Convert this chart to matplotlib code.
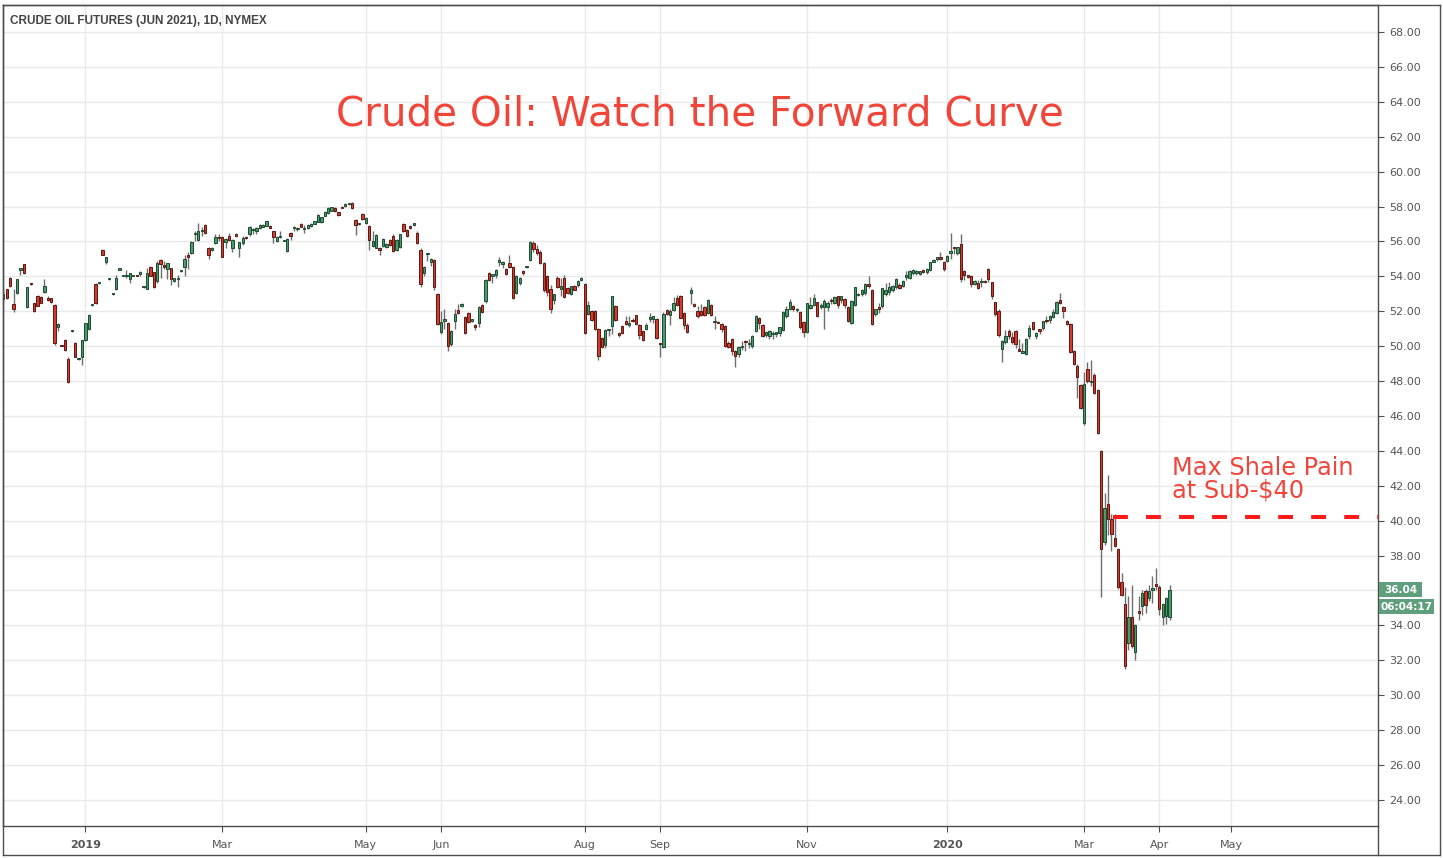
import numpy as np
import pandas as pd
import matplotlib
matplotlib.use("Agg")
import matplotlib.pyplot as plt
from matplotlib.lines import Line2D
from matplotlib.patches import Rectangle

# Daily bars of the Jun 2021 crude contract, 27 Nov 2018 -> 6 Apr 2020
opens = [
    52.70, 53.25, 53.92, 52.42, 53.07, 54.38, 54.70, 52.26, 53.58, 52.45,
    52.90, 52.80, 53.08, 52.75, 52.75, 52.36, 51.07, 50.05, 50.35, 49.25,
    50.85, 50.20, 49.25, 49.36, 50.35, 51.00, 52.34, 53.56, 53.60, 55.50,
    54.80, 53.83, 52.97, 53.26, 54.39, 54.01, 54.02, 53.83, 54.02, 54.02,
    54.14, 53.37, 53.26, 54.56, 54.23, 53.75, 54.94, 54.65, 54.40, 54.46,
    53.75, 53.83, 54.29, 54.56, 55.20, 55.33, 56.42, 56.09, 56.61, 56.97,
    55.65, 55.50, 55.92, 56.20, 56.24, 55.96, 56.33, 55.60, 56.43, 55.61,
    55.92, 56.28, 56.40, 56.65, 56.59, 56.76, 56.85, 56.91, 56.89, 56.57,
    56.00, 56.23, 56.04, 55.44, 56.49, 56.75, 56.72, 57.02, 56.72, 56.76,
    56.89, 57.02, 57.14, 57.11, 57.48, 57.64, 57.77, 57.92, 57.66, 57.99,
    58.02, 58.14, 58.20, 57.24, 57.00, 57.58, 57.06, 56.89, 55.73, 55.63,
    55.55, 55.73, 55.67, 56.09, 56.34, 55.52, 55.67, 57.00, 56.63, 56.91,
    56.96, 56.49, 55.52, 54.20, 55.28, 54.81, 54.94, 53.00, 50.80, 51.46,
    51.33, 50.13, 51.43, 52.08, 52.32, 51.66, 51.90, 51.46, 51.22, 51.31,
    52.36, 52.61, 54.20, 54.04, 54.08, 54.81, 54.71, 54.43, 54.77, 54.52,
    53.05, 53.62, 54.28, 54.51, 54.94, 55.92, 55.57, 55.42, 54.78, 54.03,
    53.29, 52.62, 53.92, 53.25, 53.92, 53.34, 53.00, 53.42, 53.52, 53.80,
    53.54, 51.85, 51.99, 51.99, 51.00, 50.48, 50.08, 50.93, 51.15, 52.30,
    50.77, 51.13, 51.42, 51.24, 51.51, 51.76, 51.22, 50.84, 50.96, 51.58,
    51.57, 51.57, 50.15, 49.94, 52.08, 51.76, 52.08, 52.77, 52.90, 51.91,
    51.22, 53.04, 52.43, 52.04, 51.99, 52.24, 51.89, 52.37, 51.37, 51.38,
    51.28, 51.13, 50.19, 50.40, 49.72, 49.54, 49.96, 50.31, 50.13, 49.98,
    50.84, 51.61, 51.22, 50.61, 50.56, 50.69, 50.69, 50.75, 50.90, 51.70,
    52.12, 52.31, 52.06, 51.95, 51.38, 50.80, 52.18, 52.37, 52.52, 52.26,
    52.24, 52.24, 52.66, 52.47, 52.85, 52.66, 52.71, 52.27, 51.32, 52.33,
    52.93, 53.00, 53.04, 53.55, 53.23, 51.84, 52.24, 52.28, 52.98, 53.10,
    53.23, 53.38, 53.52, 53.46, 53.96, 53.90, 54.19, 54.19, 54.15, 54.38,
    54.24, 54.38, 54.85, 55.00, 55.10, 54.85, 54.89, 55.33, 55.68, 55.33,
    55.85, 54.30, 54.02, 54.00, 53.57, 53.61, 53.66, 53.75, 54.41, 53.67,
    52.52, 52.03, 49.83, 50.23, 50.88, 50.50, 50.88, 49.85, 49.63, 49.54,
    50.56, 51.36, 50.56, 50.91, 51.03, 51.51, 51.47, 51.66, 51.90, 52.66,
    52.27, 51.45, 51.26, 49.73, 48.87, 47.79, 45.59, 48.70, 47.93, 48.36,
    47.50, 44.00, 38.75, 40.98, 40.08, 39.03, 38.40, 36.51, 35.21, 32.96,
    34.45, 32.50, 34.80, 35.08, 35.99, 35.55, 36.05, 36.32, 36.22, 34.50,
    34.55, 34.45,
]
highs = [
    53.20, 53.30, 53.95, 53.25, 53.85, 54.42, 54.72, 53.40, 53.62, 52.50,
    52.95, 52.85, 53.83, 52.90, 52.78, 52.40, 51.30, 50.08, 50.40, 49.40,
    50.90, 50.25, 49.30, 50.35, 51.35, 51.85, 52.38, 53.60, 53.63, 55.55,
    55.10, 53.86, 53.00, 54.10, 54.42, 54.04, 54.36, 54.17, 54.05, 54.04,
    54.30, 53.40, 54.50, 54.60, 54.25, 54.90, 55.00, 54.90, 54.78, 54.50,
    53.92, 54.10, 54.32, 55.20, 55.40, 56.00, 56.62, 57.08, 56.80, 57.00,
    55.70, 55.70, 56.40, 56.40, 56.30, 56.18, 56.50, 56.12, 56.50, 55.96,
    56.30, 56.32, 56.90, 56.75, 56.80, 57.00, 56.98, 57.20, 56.92, 56.60,
    56.30, 56.62, 56.10, 56.18, 56.52, 56.90, 56.85, 57.05, 56.95, 56.98,
    57.05, 57.18, 57.55, 57.42, 57.75, 57.95, 57.98, 57.95, 57.70, 58.02,
    58.18, 58.22, 58.25, 57.30, 57.05, 57.62, 57.40, 56.92, 56.60, 56.40,
    55.70, 56.18, 55.90, 56.15, 56.40, 56.12, 56.45, 57.05, 56.70, 56.95,
    57.05, 56.60, 55.60, 54.60, 55.32, 55.05, 55.00, 53.05, 52.00, 52.10,
    51.40, 50.95, 52.10, 52.40, 52.45, 51.70, 51.95, 51.55, 51.25, 52.30,
    52.40, 53.82, 54.25, 54.10, 54.40, 55.10, 54.90, 54.48, 55.20, 54.60,
    54.05, 53.95, 54.35, 54.60, 56.05, 56.00, 55.80, 55.50, 54.85, 54.10,
    53.50, 53.00, 54.00, 53.90, 54.10, 53.40, 53.45, 53.50, 53.80, 53.95,
    53.60, 52.60, 52.05, 52.05, 51.05, 50.55, 50.97, 51.00, 52.90, 52.35,
    50.80, 51.20, 51.70, 51.70, 51.60, 51.80, 51.25, 50.90, 51.30, 51.90,
    51.75, 51.62, 50.20, 51.95, 52.12, 52.10, 52.80, 52.95, 52.95, 51.95,
    51.30, 53.40, 52.50, 52.30, 52.40, 52.30, 52.70, 52.40, 51.75, 51.45,
    51.35, 51.20, 50.30, 50.45, 49.80, 50.00, 50.30, 50.35, 50.40, 50.62,
    51.76, 51.65, 51.25, 50.85, 50.92, 50.85, 50.82, 51.12, 52.00, 52.30,
    52.70, 52.35, 52.20, 52.00, 51.45, 52.50, 52.80, 53.00, 52.55, 52.50,
    52.70, 52.60, 52.75, 52.90, 52.90, 52.90, 52.75, 52.30, 52.65, 53.40,
    53.05, 53.25, 53.60, 54.00, 53.30, 52.15, 52.50, 53.35, 53.60, 53.70,
    53.50, 53.90, 53.60, 53.80, 54.30, 54.35, 54.40, 54.35, 54.30, 54.42,
    54.45, 54.85, 55.00, 55.12, 55.40, 54.90, 55.20, 56.50, 55.70, 55.70,
    56.40, 54.35, 54.10, 54.05, 53.78, 53.80, 53.90, 53.80, 54.45, 53.70,
    52.55, 52.10, 50.35, 50.90, 51.00, 50.80, 50.95, 50.40, 50.20, 50.45,
    51.20, 51.40, 50.80, 51.00, 51.45, 51.70, 51.76, 52.10, 52.60, 53.05,
    52.30, 51.50, 51.30, 49.80, 48.95, 47.85, 48.50, 49.10, 49.20, 48.45,
    47.55, 44.02, 41.57, 42.60, 40.40, 40.40, 38.45, 37.00, 36.20, 35.70,
    36.30, 34.10, 35.70, 36.00, 36.10, 36.30, 36.80, 37.30, 36.30, 35.30,
    35.60, 36.30,
]
lows = [
    52.45, 52.70, 53.40, 51.98, 53.00, 54.10, 54.15, 52.20, 53.50, 51.96,
    52.30, 52.45, 53.05, 52.60, 52.50, 50.05, 50.85, 50.00, 49.75, 47.90,
    50.82, 49.35, 49.22, 48.90, 50.30, 50.95, 52.30, 52.40, 53.58, 55.20,
    54.70, 53.80, 52.94, 53.20, 54.38, 54.00, 53.90, 53.60, 54.00, 54.00,
    54.00, 53.35, 53.25, 54.00, 53.35, 53.60, 53.90, 54.40, 53.85, 53.50,
    53.70, 53.40, 54.26, 54.00, 54.40, 55.30, 56.05, 56.00, 56.33, 56.40,
    55.00, 55.45, 55.88, 56.00, 55.10, 55.60, 56.05, 55.40, 56.28, 55.10,
    55.80, 56.15, 56.30, 56.45, 56.40, 56.70, 56.80, 56.88, 56.75, 55.90,
    55.95, 56.20, 56.00, 55.40, 56.10, 56.60, 56.60, 56.80, 56.50, 56.70,
    56.85, 56.98, 57.10, 57.05, 57.45, 57.60, 57.72, 57.70, 57.45, 57.90,
    57.98, 58.10, 57.88, 56.38, 56.95, 57.25, 57.00, 55.50, 55.70, 55.60,
    55.20, 55.70, 55.60, 55.75, 55.40, 55.45, 55.60, 56.55, 56.25, 56.70,
    56.90, 55.85, 53.40, 54.00, 54.90, 54.60, 53.20, 51.20, 50.70, 51.00,
    49.70, 50.00, 51.00, 51.85, 52.25, 50.70, 51.35, 51.40, 50.90, 51.10,
    51.90, 52.50, 53.75, 53.60, 53.90, 54.60, 54.50, 54.10, 54.50, 52.70,
    53.00, 53.50, 54.10, 54.45, 54.90, 55.40, 55.20, 54.70, 53.10, 52.90,
    51.90, 52.40, 53.35, 52.90, 52.75, 53.00, 52.95, 53.20, 53.40, 53.75,
    50.70, 51.80, 51.45, 50.95, 49.20, 49.90, 49.90, 50.60, 50.70, 51.45,
    50.50, 50.70, 51.20, 51.10, 51.38, 51.20, 50.40, 50.30, 50.90, 51.40,
    51.30, 50.40, 49.40, 49.90, 51.80, 51.20, 52.00, 52.30, 51.60, 51.00,
    50.78, 52.40, 52.25, 51.60, 51.75, 51.75, 51.85, 51.75, 51.00, 51.30,
    50.80, 49.95, 49.90, 49.50, 48.80, 49.40, 49.80, 49.70, 49.90, 49.90,
    50.80, 51.00, 50.50, 50.50, 50.40, 50.40, 50.50, 50.60, 50.85, 51.60,
    52.05, 52.00, 51.95, 51.00, 50.50, 50.75, 52.10, 52.30, 51.65, 52.10,
    51.00, 52.00, 52.40, 52.40, 52.20, 52.50, 52.20, 51.40, 51.25, 52.30,
    52.85, 52.90, 52.95, 53.35, 51.20, 51.70, 51.90, 52.20, 52.90, 52.95,
    53.10, 53.30, 53.30, 53.40, 53.80, 53.85, 54.10, 54.10, 54.10, 54.20,
    54.15, 54.30, 54.80, 54.90, 54.95, 54.30, 54.80, 55.00, 55.30, 55.20,
    53.70, 53.80, 53.90, 53.40, 53.50, 53.30, 53.40, 53.60, 53.70, 52.70,
    51.70, 50.55, 49.10, 50.10, 50.40, 50.10, 49.90, 49.70, 49.60, 49.50,
    50.40, 50.95, 50.40, 50.70, 50.90, 51.30, 51.30, 51.60, 51.85, 52.40,
    51.60, 51.20, 49.60, 48.90, 47.00, 46.40, 45.50, 47.90, 47.70, 47.25,
    44.95, 35.60, 38.60, 39.20, 38.27, 38.50, 36.10, 35.70, 31.50, 32.60,
    32.70, 32.00, 34.30, 34.60, 34.70, 35.40, 35.30, 36.00, 34.60, 34.00,
    34.10, 34.30,
]
closes = [
    53.00, 52.77, 53.45, 52.11, 53.83, 54.40, 54.17, 53.37, 53.55, 52.03,
    52.32, 52.50, 53.45, 52.62, 52.52, 50.16, 51.27, 50.02, 49.78, 47.93,
    50.88, 49.36, 49.28, 50.34, 51.33, 51.80, 52.36, 52.45, 53.62, 55.24,
    55.09, 53.84, 52.98, 53.89, 54.40, 54.02, 54.08, 54.17, 54.03, 54.01,
    54.27, 53.38, 54.17, 54.04, 53.37, 54.75, 54.71, 54.52, 54.75, 53.83,
    53.89, 53.89, 54.30, 54.98, 55.13, 55.99, 56.44, 56.62, 56.63, 56.47,
    55.25, 55.65, 56.28, 56.18, 55.13, 56.15, 56.10, 56.10, 56.30, 55.94,
    56.20, 56.19, 56.82, 56.67, 56.78, 56.95, 56.95, 57.18, 56.78, 56.24,
    56.28, 56.25, 56.06, 56.15, 56.30, 56.77, 56.74, 56.83, 56.74, 56.95,
    57.02, 57.16, 57.52, 57.40, 57.71, 57.92, 57.96, 57.73, 57.50, 57.92,
    58.15, 58.16, 57.90, 56.95, 57.01, 57.29, 57.35, 56.09, 56.00, 56.38,
    55.53, 56.15, 55.86, 55.80, 55.44, 56.09, 56.43, 56.59, 56.30, 56.76,
    56.98, 55.92, 53.57, 54.56, 55.30, 55.00, 53.38, 51.28, 51.37, 51.48,
    50.00, 50.89, 51.85, 51.89, 52.34, 50.74, 51.41, 51.48, 51.08, 52.27,
    51.94, 53.80, 53.80, 54.06, 54.37, 54.94, 54.85, 54.14, 54.52, 52.76,
    54.00, 53.91, 54.20, 54.53, 55.99, 55.57, 55.33, 54.77, 53.19, 53.10,
    52.14, 52.96, 53.38, 53.42, 52.81, 53.06, 53.42, 53.23, 53.71, 53.90,
    50.75, 52.33, 51.51, 50.98, 49.43, 49.94, 50.94, 50.95, 52.85, 51.51,
    50.65, 50.77, 51.28, 51.26, 51.42, 51.28, 50.65, 50.36, 51.22, 51.60,
    51.70, 50.48, 50.13, 51.85, 51.85, 52.04, 52.47, 52.37, 51.63, 51.22,
    50.80, 53.19, 52.30, 51.72, 51.80, 51.80, 52.66, 51.80, 51.39, 51.32,
    51.00, 50.00, 49.94, 49.70, 49.41, 49.94, 49.99, 50.21, 50.15, 50.59,
    51.74, 51.32, 50.56, 50.80, 50.88, 50.75, 50.80, 51.09, 51.95, 52.14,
    52.52, 52.12, 52.08, 51.07, 50.80, 52.47, 52.33, 52.75, 51.70, 52.28,
    52.56, 52.47, 52.56, 52.79, 52.33, 52.85, 52.33, 51.45, 52.60, 53.38,
    52.95, 53.23, 53.57, 53.42, 51.26, 52.12, 52.12, 53.33, 53.23, 53.38,
    53.46, 53.84, 53.36, 53.75, 54.09, 54.32, 54.38, 54.32, 54.28, 54.24,
    54.41, 54.82, 54.95, 55.10, 54.99, 54.41, 55.15, 55.47, 55.60, 55.68,
    53.84, 54.05, 53.99, 53.55, 53.75, 53.36, 53.68, 53.65, 53.84, 52.85,
    51.84, 50.61, 50.31, 50.59, 50.56, 50.21, 50.12, 49.75, 49.66, 50.42,
    51.03, 50.98, 50.75, 50.89, 51.42, 51.42, 51.74, 51.93, 52.52, 52.47,
    51.99, 51.26, 49.64, 48.97, 48.26, 46.45, 47.85, 48.02, 47.95, 47.31,
    45.02, 38.40, 40.70, 40.08, 39.22, 38.56, 36.17, 35.75, 31.68, 34.45,
    32.82, 34.03, 34.68, 35.88, 35.17, 35.94, 36.09, 36.28, 34.96, 35.21,
    35.55, 36.04,
]

start_date = "2018-11-27"
holidays = [
    "2018-12-25", "2019-01-01", "2019-01-21", "2019-02-18", "2019-04-19",
    "2019-05-27", "2019-07-04", "2019-09-02", "2019-11-28", "2019-12-25",
    "2020-01-01", "2020-01-20", "2020-02-17", "2020-04-10", "2020-05-25",
]
tick_months = ["2019-01", "2019-03", "2019-05", "2019-06", "2019-08", "2019-09",
               "2019-11", "2020-01", "2020-03", "2020-04", "2020-05"]
y_ticks = np.arange(24, 69, 2)

last_price = 36.04
countdown = "06:04:17"
shale_level = 40.2
shale_start = "2020-03-12"

# colours
GREEN = "#4a9a6a"
GREEN_EDGE = "#1c4b32"
RED = "#d23b2d"
RED_EDGE = "#5e1711"
WICK = "#6e6e6e"
GRID = "#e9e9e9"
FRAME = "#4d4d4d"
TEXT = "#555555"
ANNOT = "#f2453a"
LABEL_BG = "#5f9f7d"

# trading calendar (also covers the empty space on the right)
dates = pd.bdate_range(start_date, "2020-09-30")
dates = dates[~dates.isin(pd.to_datetime(holidays))]
n = len(closes)
x = np.arange(n)

W, H = 1443, 858
fig = plt.figure(figsize=(W / 100, H / 100), dpi=100)
fig.patch.set_facecolor("white")

# main price pane
ax = fig.add_axes([3 / W, 1 - 826 / H, (1378 - 3) / W, (826 - 5) / H])
ax.set_xlim(-0.09, 401.96)
ax.set_ylim(22.5, 69.55)

o = np.array(opens)
c = np.array(closes)
hi = np.array(highs)
lo = np.array(lows)
up = c >= o
body_lo = np.minimum(o, c)
body_h = np.maximum(np.abs(c - o), 0.07)

ax.vlines(x, lo, hi, color=WICK, linewidth=1.0, zorder=2)
ax.bar(x[up], body_h[up], bottom=body_lo[up], width=0.68, color=GREEN,
       edgecolor=GREEN_EDGE, linewidth=0.7, zorder=3)
ax.bar(x[~up], body_h[~up], bottom=body_lo[~up], width=0.68, color=RED,
       edgecolor=RED_EDGE, linewidth=0.7, zorder=3)

# axes / ticks
month_key = dates.strftime("%Y-%m")
tick_pos = [int(np.argmax(month_key == m)) for m in tick_months]
tick_lab = [d.strftime("%Y") if d.month == 1 else d.strftime("%b")
            for d in dates[tick_pos]]
ax.set_xticks(tick_pos)
ax.set_xticklabels(tick_lab)
for lab in ax.get_xticklabels():
    if lab.get_text().isdigit():
        lab.set_color("#3a3a3a")
        lab.set_fontweight("bold")

ax.yaxis.tick_right()
ax.set_yticks(y_ticks)
# the 36.00 label sits under the last-price tag, so it is not shown
ax.set_yticklabels(["" if abs(v - last_price) < 0.6 else f"{v:.2f}"
                    for v in y_ticks])
ax.tick_params(axis="both", colors=FRAME, labelcolor=TEXT, labelsize=8,
               length=4, width=0.8)
ax.tick_params(axis="x", pad=6)
ax.tick_params(axis="y", pad=4)
ax.grid(True, color=GRID, linewidth=1.0, zorder=0)
ax.set_axisbelow(True)
for sp in ax.spines.values():
    sp.set_color(FRAME)
    sp.set_linewidth(1.0)

# outer frame around the price and time scales
def fig_line(x0, y0, x1, y1):
    fig.add_artist(Line2D([x0 / W, x1 / W], [1 - y0 / H, 1 - y1 / H],
                          color=FRAME, linewidth=1.0))

fig_line(3, 5, 1440, 5)
fig_line(1440, 5, 1440, 855)
fig_line(3, 855, 1440, 855)
fig_line(3, 5, 3, 855)
fig_line(1378, 826, 1378, 855)

# last price + countdown tags on the price scale
ytr = ax.get_yaxis_transform()
px = 1.0 / (1378 - 3)            # one pixel in axes-x units
py = 47.05 / (826 - 5)           # one pixel in price units


def scale_label(text, y_center, width_px):
    ax.add_patch(Rectangle((1.0 + 1 * px, y_center - 7.5 * py), width_px * px,
                           15 * py, transform=ytr, facecolor=LABEL_BG,
                           edgecolor="none", clip_on=False, zorder=9))
    ax.text(1.0 + (1 + width_px / 2) * px, y_center, text, transform=ytr,
            ha="center", va="center", fontsize=7.5, fontweight="bold",
            color="white", clip_on=False, zorder=10)


scale_label(f"{last_price:.2f}", last_price, 43)
scale_label(countdown, last_price - 17 * py, 55)

# shale pain line
x_start = int(np.argmax(dates == pd.Timestamp(shale_start))) + 0.6
ax.hlines(shale_level, x_start, 401.96, color="#ff1a1a", linewidth=2.9,
          linestyles=(0, (3.7, 4.5)), zorder=6)

# texts
fig.text(10 / W, 1 - 21 / H, "CRUDE OIL FUTURES (JUN 2021), 1D, NYMEX",
         ha="left", va="center", fontsize=8.5, fontweight="bold",
         color="#444444", family="Liberation Sans")
fig.text(700 / W, 1 - 114 / H, "Crude Oil: Watch the Forward Curve",
         ha="center", va="center", fontsize=29.2, color=ANNOT,
         family="DejaVu Sans")
fig.text(1172 / W, 1 - 456 / H, "Max Shale Pain\nat Sub-$40", ha="left",
         va="top", fontsize=17.3, color=ANNOT, linespacing=0.92,
         family="DejaVu Sans")

fig.savefig("out.png", dpi=100)
